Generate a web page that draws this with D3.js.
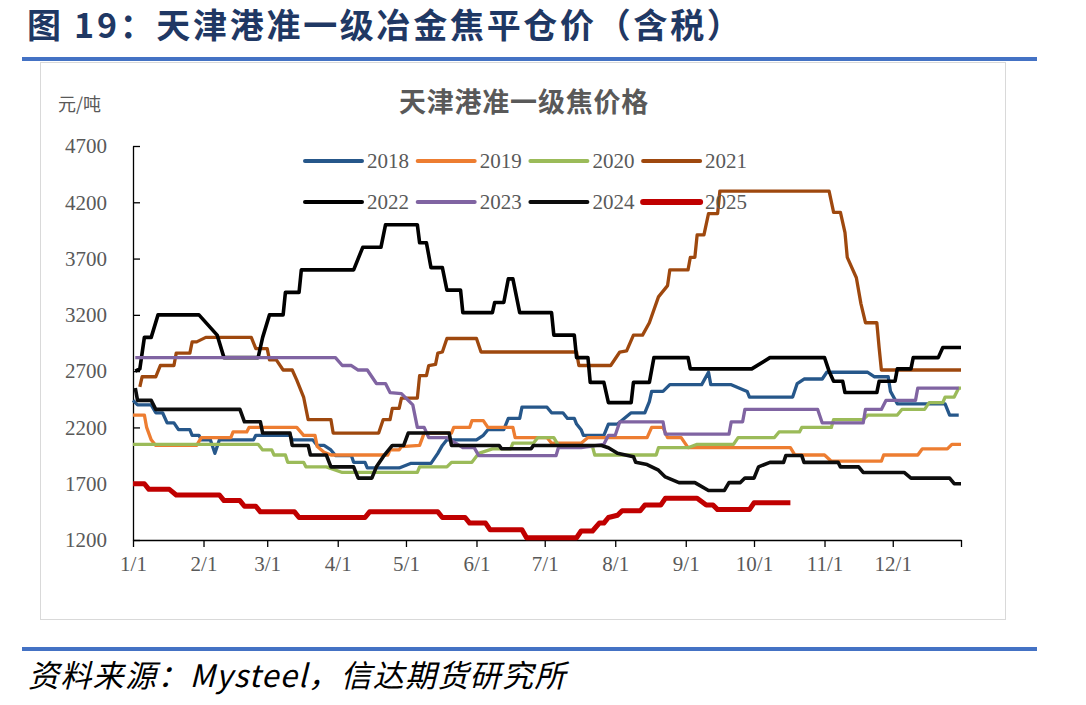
<!DOCTYPE html>
<html>
<head>
<meta charset="utf-8">
<script src="https://cdn.jsdelivr.net/npm/d3@7"></script>
<style>
body{margin:0;background:#fff}
</style>
</head>
<body>
<script>
// series names and colours
const years=["2018","2019","2020","2021","2022","2023","2024","2025"];
const colors=["#26578a","#ed7d31","#9bbb59","#9e480e","#000000","#8064a2","#0d0d0d","#c00000"];

// [day of year, 元/吨]
const s2018=[[0,2440],[2,2400],[8,2400],[10,2330],[13,2330],[15,2240],[18,2240],[20,2180],[25,2180],[26,2130],[29,2130],[30,2090],[34,2090],[36,1970],[38,2090],[53,2090],[54,2130],[69,2130],[70,2090],[79,2090],[81,2040],[84,2040],[87,2000],[89,1950],[96,1950],[97,1890],[102,1890],[103,1840],[117,1840],[122,1880],[131,1880],[134,1970],[136,2040],[138,2090],[151,2090],[154,2130],[156,2180],[163,2180],[165,2280],[170,2280],[171,2380],[182,2380],[184,2330],[189,2330],[191,2280],[194,2280],[195,2230],[197,2180],[198,2130],[207,2130],[209,2230],[213,2230],[219,2330],[225,2330],[227,2430],[228,2520],[233,2520],[236,2580],[250,2580],[253,2690],[254,2580],[263,2580],[270,2520],[271,2470],[290,2470],[292,2590],[295,2630],[303,2630],[305,2690],[323,2690],[326,2650],[332,2650],[333,2520],[336,2410],[357,2410],[359,2310],[363,2310]];
const s2019=[[0,2310],[5,2310],[6,2200],[8,2090],[10,2040],[28,2040],[30,2110],[43,2110],[44,2160],[50,2160],[51,2200],[72,2200],[75,2130],[80,2130],[81,2030],[84,1980],[87,1955],[112,1955],[113,2000],[117,2000],[118,2030],[126,2040],[128,2150],[140,2150],[141,2200],[148,2200],[149,2260],[154,2260],[156,2200],[167,2200],[168,2110],[182,2110],[184,2060],[197,2060],[200,2110],[226,2110],[228,2200],[233,2200],[235,2110],[241,2110],[244,2020],[289,2020],[291,1955],[304,1955],[307,1900],[329,1900],[330,1955],[345,1955],[347,2010],[358,2010],[360,2050],[364,2050]];
const s2020=[[0,2050],[55,2050],[57,2000],[61,2000],[62,1955],[67,1955],[68,1890],[75,1890],[76,1850],[85,1850],[92,1800],[125,1800],[126,1850],[138,1850],[140,1890],[149,1890],[152,1970],[158,2010],[166,2010],[167,2060],[176,2060],[178,2110],[185,2110],[187,2040],[202,2030],[203,1955],[230,1955],[231,2020],[244,2020],[248,2050],[264,2050],[266,2110],[282,2110],[284,2160],[293,2160],[294,2200],[307,2200],[308,2270],[321,2270],[323,2310],[336,2310],[338,2360],[348,2360],[350,2420],[356,2420],[357,2470],[361,2470],[363,2550],[364,2550]];
const s2021=[[3,2560],[4,2650],[10,2650],[12,2750],[18,2750],[19,2860],[25,2860],[26,2960],[28,2960],[32,3000],[52,3000],[54,2900],[59,2900],[60,2800],[63,2800],[66,2710],[70,2710],[72,2620],[75,2470],[77,2270],[87,2270],[88,2150],[108,2150],[110,2270],[113,2270],[114,2370],[117,2370],[118,2460],[125,2460],[126,2660],[129,2660],[130,2750],[133,2760],[134,2860],[136,2870],[138,2990],[151,2990],[153,2870],[195,2870],[196,2750],[210,2750],[214,2870],[217,2880],[220,3020],[224,3020],[227,3130],[231,3360],[235,3460],[236,3600],[244,3600],[245,3710],[247,3710],[248,3910],[251,3910],[253,4100],[257,4100],[258,4300],[306,4300],[308,4110],[311,4110],[313,3930],[314,3710],[318,3530],[320,3300],[322,3130],[327,3130],[328,2910],[329,2710],[364,2710]];
const s2022=[[1,2700],[3,2720],[5,3000],[8,3000],[11,3200],[29,3200],[37,3020],[40,2820],[55,2820],[57,3000],[60,3200],[66,3200],[67,3400],[73,3400],[74,3600],[97,3600],[101,3800],[109,3800],[111,4000],[125,4000],[126,3840],[129,3840],[131,3620],[136,3620],[138,3420],[144,3420],[145,3220],[158,3220],[159,3310],[163,3310],[165,3520],[167,3520],[170,3220],[184,3220],[185,3020],[194,3020],[195,2820],[200,2820],[201,2600],[207,2600],[209,2420],[219,2420],[220,2600],[227,2600],[229,2820],[244,2820],[245,2720],[272,2720],[280,2820],[304,2820],[306,2700],[308,2610],[312,2610],[313,2510],[327,2510],[328,2610],[335,2610],[336,2720],[342,2720],[343,2820],[354,2820],[356,2910],[364,2910]];
const s2023=[[1,2820],[89,2820],[92,2750],[96,2750],[99,2710],[103,2710],[107,2590],[111,2590],[113,2510],[118,2500],[123,2400],[125,2200],[128,2200],[130,2110],[138,2110],[145,2020],[150,2020],[152,1950],[186,1950],[187,2020],[197,2020],[207,2050],[209,2130],[212,2130],[214,2250],[233,2250],[234,2140],[262,2140],[263,2250],[268,2250],[269,2360],[301,2360],[303,2240],[321,2240],[322,2360],[329,2360],[331,2440],[344,2440],[345,2550],[363,2550]];
const s2024=[[1,2550],[2,2440],[8,2440],[10,2360],[47,2360],[49,2250],[56,2250],[57,2150],[69,2150],[70,2040],[77,2040],[78,1955],[85,1955],[87,1850],[97,1850],[99,1750],[105,1750],[107,1850],[110,1940],[114,2040],[119,2040],[121,2150],[139,2150],[140,2040],[161,2040],[162,2010],[175,2010],[176,2040],[206,2040],[209,2020],[213,1970],[220,1940],[221,1890],[226,1870],[231,1820],[234,1760],[240,1710],[247,1710],[253,1640],[260,1640],[262,1710],[267,1710],[269,1750],[273,1750],[275,1850],[280,1890],[286,1890],[287,1950],[294,1950],[295,1890],[310,1890],[311,1850],[319,1850],[321,1800],[339,1800],[342,1750],[359,1750],[361,1700],[364,1700]];
const s2025=[[0,1700],[5,1700],[7,1650],[16,1650],[19,1600],[38,1600],[40,1550],[47,1550],[49,1500],[54,1500],[56,1450],[71,1450],[73,1400],[102,1400],[104,1450],[134,1450],[136,1400],[146,1400],[148,1350],[155,1350],[157,1290],[171,1290],[173,1220],[195,1220],[197,1280],[202,1280],[205,1350],[207,1350],[209,1400],[213,1420],[215,1460],[223,1460],[225,1510],[232,1510],[234,1570],[248,1570],[252,1510],[255,1510],[257,1470],[271,1470],[273,1530],[289,1530]];

const yTicks=[1200,1700,2200,2700,3200,3700,4200,4700];
const monthLabels=["1/1","2/1","3/1","4/1","5/1","6/1","7/1","8/1","9/1","10/1","11/1","12/1"];

const series=[s2018,s2019,s2020,s2021,s2022,s2023,s2024,s2025];

const w=1086,h=705;
const serif="'Liberation Serif','Times New Roman',serif";
const cjk="'Noto Sans CJK SC',sans-serif";

const svg=d3.select("body").append("svg")
  .attr("width",w).attr("height",h)
  .style("background","#fff");

// header / footer
svg.append("text").attr("x",27).attr("y",38)
  .attr("font-family",cjk).attr("font-weight","bold").attr("font-size",34)
  .attr("letter-spacing",2.7)
  .attr("fill","#1f3864")
  .text("图 19：天津港准一级冶金焦平仓价（含税）");
svg.append("rect").attr("x",22).attr("y",57).attr("width",1015).attr("height",4).attr("fill","#4472c4");
svg.append("rect").attr("x",40.5).attr("y",62.5).attr("width",965).attr("height",557)
  .attr("fill","none").attr("stroke","#d9d9d9");
svg.append("rect").attr("x",22).attr("y",647).attr("width",1015).attr("height",4).attr("fill","#4472c4");
svg.append("text").attr("x",28).attr("y",687)
  .attr("font-family",cjk).attr("font-style","italic").attr("font-size",31)
  .attr("letter-spacing",1.3)
  .attr("fill","#000")
  .text("资料来源：Mysteel，信达期货研究所");

// chart title and unit
svg.append("text").attr("x",524).attr("y",112).attr("text-anchor","middle")
  .attr("font-family",cjk).attr("font-weight","bold").attr("font-size",27)
  .attr("letter-spacing",0.8)
  .attr("fill","#595959").text("天津港准一级焦价格");
svg.append("text").attr("x",58).attr("y",111)
  .attr("font-family",cjk).attr("font-size",18)
  .attr("fill","#595959").text("元/吨");

// scales
const base=new Date(2021,0,1);
const toDate=d=>d3.timeDay.offset(base,d);
const x=d3.scaleTime().domain([base,new Date(2021,11,31)]).range([133,961]);
const y=d3.scaleLinear().domain([1200,4700]).range([540,146]);

// axes
const monthTicks=d3.timeMonth.range(base,new Date(2022,0,1)).concat([new Date(2021,11,31)]);
const xAxis=d3.axisBottom(x).tickValues(monthTicks)
  .tickFormat((d,i)=>monthLabels[i]||"").tickSize(7).tickPadding(9).tickSizeOuter(0);
const yAxis=d3.axisLeft(y).tickValues(yTicks).tickFormat(d3.format("d"))
  .tickSize(-7).tickPadding(26).tickSizeOuter(0);

const gx=svg.append("g").attr("transform","translate(0,540)").call(xAxis);
const gy=svg.append("g").attr("transform","translate(133,0)").call(yAxis);
[gx,gy].forEach(g=>{
  g.select(".domain").attr("stroke","#000").attr("stroke-width",1.3);
  g.selectAll(".tick line").attr("stroke","#000").attr("stroke-width",1.3);
  g.selectAll(".tick text").attr("font-family",serif).attr("font-size",21).attr("fill","#595959");
});

// lines
const line=d3.line().x(d=>x(toDate(d[0]))).y(d=>y(d[1]));
svg.append("g").selectAll("path")
  .data(series)
  .enter()
  .append("path")
  .attr("d",line)
  .attr("fill","none")
  .attr("stroke",(d,i)=>colors[i])
  .attr("stroke-width",(d,i)=>i==7?5:(i==4||i==6)?3.6:3.3)
  .attr("stroke-linejoin","round");

// legend
const lg=svg.append("g").selectAll("g")
  .data(years)
  .enter()
  .append("g")
  .attr("transform",(d,i)=>"translate("+(305+(i%4)*112.7)+","+(161+Math.floor(i/4)*41)+")");
lg.append("line").attr("x1",0).attr("x2",57).attr("y1",0).attr("y2",0)
  .attr("stroke",(d,i)=>colors[i])
  .attr("stroke-width",(d,i)=>i==7?6:4)
  .attr("stroke-linecap","round");
lg.append("text").attr("x",62).attr("y",7)
  .attr("font-family",serif).attr("font-size",21).attr("fill","#595959")
  .text(d=>d);
</script>
</body>
</html>
